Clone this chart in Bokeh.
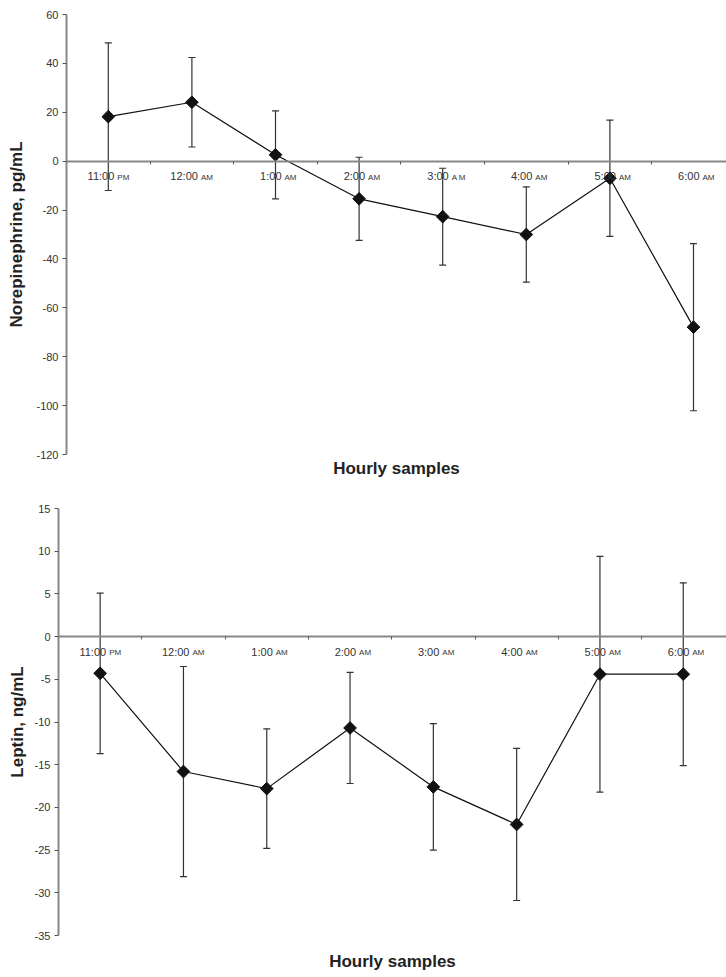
import math
from bokeh.plotting import figure
from bokeh.models import (LinearAxis, FixedTicker, Whisker, TeeHead, ColumnDataSource,
                          Range1d)
from bokeh.core.properties import value
from bokeh.embed import file_html
from bokeh.resources import INLINE

# ---------------- data ----------------
hours = ["11:00", "12:00", "1:00", "2:00", "3:00", "4:00", "5:00", "6:00"]
suffix_top = ["PM", "AM", "AM", "AM", "A M", "AM", "AM", "AM"]
suffix_bot = ["PM", "AM", "AM", "AM", "AM", "AM", "AM", "AM"]

ne_mean = [18.2, 24.1, 2.6, -15.4, -22.7, -30.0, -7.0, -67.9]
ne_err = [30.2, 18.3, 18.0, 17.0, 19.8, 19.5, 23.8, 34.2]
ne_ticks = [-120, -100, -80, -60, -40, -20, 0, 20, 40, 60]

lep_mean = [-4.3, -15.8, -17.8, -10.7, -17.6, -22.0, -4.4, -4.4]
lep_err = [9.4, 12.3, 7.0, 6.5, 7.4, 8.9, 13.8, 10.7]
lep_ticks = [-35, -30, -25, -20, -15, -10, -5, 0, 5, 10, 15]

FONT = "Liberation Sans"
PAGE_W = 726


def panel(ylabel, mean, err, suffixes, yticks, frame_h, left, top, cat_px,
          ylab_standoff, xlab_standoff):
    n = len(hours)
    xs = list(range(n))
    src = ColumnDataSource(dict(
        x=xs, y=mean,
        upper=[m + e for m, e in zip(mean, err)],
        lower=[m - e for m, e in zip(mean, err)],
        hour=hours, suf=suffixes, zero=[0] * n,
    ))
    frame_w = PAGE_W - left
    p = figure(frame_width=frame_w, frame_height=frame_h,
               x_range=Range1d(-0.5, -0.5 + frame_w / cat_px),
               y_range=Range1d(yticks[0], yticks[-1]),
               x_axis_location=None, toolbar_location=None,
               output_backend="svg", min_border_left=left, min_border_right=0,
               min_border_top=top, min_border_bottom=0)
    p.outline_line_color = None
    p.grid.visible = False
    p.background_fill_color = "white"

    yax = p.yaxis[0]
    yax.ticker = FixedTicker(ticks=yticks)
    yax.major_label_overrides = {t: str(t) for t in yticks}
    yax.minor_tick_line_color = None
    yax.major_tick_out = 4
    yax.major_tick_in = 0
    yax.major_tick_line_color = "#555555"
    yax.axis_line_color = "#888888"
    yax.axis_line_width = 2
    yax.major_label_text_font = FONT
    yax.major_label_text_font_size = "11px"
    yax.major_label_text_color = "#333333"
    yax.major_label_standoff = 4
    yax.axis_label = ylabel
    yax.axis_label_text_font = FONT
    yax.axis_label_text_font_size = "17px"
    yax.axis_label_text_font_style = "bold"
    yax.axis_label_text_color = "#222222"
    yax.axis_label_standoff = ylab_standoff

    # x axis drawn along y = 0, ticks at the category boundaries
    bounds = [i + 0.5 for i in range(n - 1)]
    xax = LinearAxis(fixed_location=0,
                     ticker=FixedTicker(ticks=bounds),
                     major_label_overrides={b: "" for b in bounds},
                     major_label_text_font_size="11px", major_label_standoff=0,
                     minor_tick_line_color=None, major_tick_out=0, major_tick_in=3,
                     axis_line_color="#888888", axis_line_width=2,
                     major_tick_line_color="#555555")
    p.add_layout(xax, "above")

    # x-axis title below the frame
    xtitle = LinearAxis(ticker=FixedTicker(ticks=[]), major_tick_out=0, major_tick_in=0,
                        major_label_standoff=0, axis_line_alpha=0,
                        major_tick_line_alpha=0, minor_tick_line_color=None,
                        axis_label="Hourly samples", axis_label_standoff=xlab_standoff,
                        axis_label_text_font=FONT, axis_label_text_font_size="17px",
                        axis_label_text_font_style="bold",
                        axis_label_text_color="#222222")
    p.add_layout(xtitle, "below")

    p.add_layout(Whisker(base="x", upper="upper", lower="lower", source=src,
                         line_color="#333333", line_width=1.2,
                         upper_head=TeeHead(size=7, line_color="#333333", line_width=1.2),
                         lower_head=TeeHead(size=7, line_color="#333333", line_width=1.2)))
    p.line("x", "y", source=src, line_color="#111111", line_width=1.2)
    p.scatter("x", "y", source=src, marker="square", angle=math.pi / 4, size=9,
              fill_color="#111111", line_color="#111111")

    p.text(x="x", y="zero", text="hour", source=src, text_align="right",
           text_baseline="middle", x_offset=6, y_offset=15,
           text_font=value(FONT), text_font_size="11px", text_color="#333333")
    p.text(x="x", y="zero", text="suf", source=src, text_align="left",
           text_baseline="middle", x_offset=9, y_offset=16,
           text_font=value(FONT), text_font_size="8px", text_color="#333333")
    return p


p1 = panel("Norepinephrine, pg/mL", ne_mean, ne_err, suffix_top, ne_ticks,
           440, 66, 14, 83.6, 7, 4)
p2 = panel("Leptin, ng/mL", lep_mean, lep_err, suffix_bot, lep_ticks,
           427, 58, 28, 83.3, 5, 16)

open("out.html", "w").write(file_html([p1, p2], INLINE))
